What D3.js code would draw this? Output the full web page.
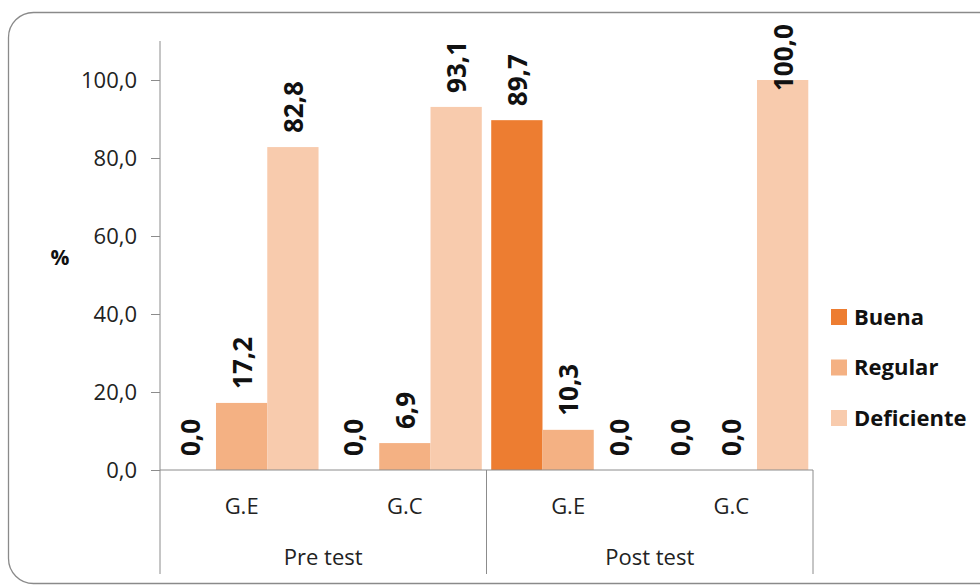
<!DOCTYPE html>
<html><head><meta charset="utf-8">
<script src="https://cdn.jsdelivr.net/npm/d3@7"></script>
<style>
body{margin:0;background:#fff;}
svg{display:block;font-family:"Open Sans",sans-serif;}
</style></head>
<body><svg id="c" width="980" height="587"></svg>
<script>
const groups = ["Pre test", "Post test"];
const categories = ["G.E", "G.C", "G.E", "G.C"];
const seriesNames = ["Buena", "Regular", "Deficiente"];
const buena = [0.0, 0.0, 89.7, 0.0];
const regular = [17.2, 6.9, 10.3, 0.0];
const deficiente = [82.8, 93.1, 0.0, 100.0];
const yTicks = [0, 20, 40, 60, 80, 100];
const colors = ["#ED7D31", "#F4B183", "#F8CBAD"];

(function () {
const series = [buena, regular, deficiente];
const svg = d3.select("#c");
const axisColor = "#8c8c8c";

// chart border
svg.append("rect").attr("x", 8.5).attr("y", 12.5).attr("width", 1000).attr("height", 571)
  .attr("rx", 25).attr("ry", 25).attr("fill", "#fff").attr("stroke", "#8a8a8a").attr("stroke-width", 1.3);

const pLeft = 160, pRight = 813, pTop = 41, pBottom = 470;
const y = d3.scaleLinear().domain([0, 110]).range([pBottom, pTop]);
const x0 = d3.scaleBand().domain(d3.range(categories.length)).range([pLeft, pRight]).paddingInner(0).paddingOuter(0);
const x1 = d3.scaleBand().domain(d3.range(seriesNames.length)).range([0, x0.bandwidth()]).paddingOuter(0.092).paddingInner(0);

// y axis
const yAxis = svg.append("g").attr("transform", `translate(${pLeft},0)`)
  .call(d3.axisLeft(y).tickValues(yTicks).tickSize(9).tickPadding(14)
    .tickFormat(d => d3.format(".1f")(d).replace(".", ",")));
yAxis.select(".domain").remove();
yAxis.selectAll(".tick line").attr("stroke", axisColor);
yAxis.selectAll(".tick text").attr("font-size", 22).attr("fill", "#222").attr("font-family", "Open Sans");
svg.append("line").attr("x1", pLeft).attr("x2", pLeft).attr("y1", pTop).attr("y2", 574).attr("stroke", axisColor);

// bars
series.forEach((vals, si) => {
  svg.append("g").selectAll("rect").data(vals).join("rect")
    .attr("x", (d, i) => x0(i) + x1(si))
    .attr("y", d => y(d))
    .attr("width", x1.bandwidth())
    .attr("height", d => pBottom - y(d))
    .attr("fill", colors[si]);
});

// x axis lines
svg.append("line").attr("x1", pLeft).attr("x2", pRight).attr("y1", pBottom).attr("y2", pBottom).attr("stroke", axisColor);
const groupEdges = [pLeft, x0(2), pRight];
groupEdges.slice(1).forEach(gx => {
  svg.append("line").attr("x1", gx).attr("x2", gx).attr("y1", pBottom).attr("y2", 574).attr("stroke", axisColor);
});

// category labels
svg.append("g").selectAll("text").data(categories).join("text")
  .attr("x", (d, i) => x0(i) + x0.bandwidth() / 2)
  .attr("y", 514).attr("text-anchor", "middle").attr("font-size", 22).attr("fill", "#222")
  .text(d => d);
svg.append("g").selectAll("text").data(groups).join("text")
  .attr("x", (d, gi) => (groupEdges[gi] + groupEdges[gi + 1]) / 2)
  .attr("y", 565).attr("text-anchor", "middle").attr("font-size", 22).attr("fill", "#222")
  .text(d => d);

// data labels
series.forEach((vals, si) => {
  svg.append("g").selectAll("text").data(vals).join("text")
    .attr("transform", (d, i) => {
      const cx = x0(i) + x1(si) + x1.bandwidth() / 2;
      const by = Math.max(y(d) - 14, 91);
      return `translate(${cx},${by}) rotate(-90)`;
    })
    .attr("dy", "0.38em")
    .attr("font-size", 26).attr("font-weight", "bold").attr("fill", "#111")
    .text(d => d3.format(".1f")(d).replace(".", ","));
});

// y title
svg.append("text").attr("x", 60).attr("y", 265).attr("text-anchor", "middle")
  .attr("font-size", 21).attr("font-weight", "bold").attr("fill", "#111").text("%");

// legend
const legendY = [317, 367.5, 418];
seriesNames.forEach((n, si) => {
  svg.append("rect").attr("x", 831).attr("y", legendY[si] - 8).attr("width", 16).attr("height", 16).attr("fill", colors[si]);
  svg.append("text").attr("x", 854).attr("y", legendY[si]).attr("dy", "0.36em")
    .attr("font-size", 22).attr("font-weight", "bold").attr("fill", "#111").text(n);
});
})();
</script></body></html>
